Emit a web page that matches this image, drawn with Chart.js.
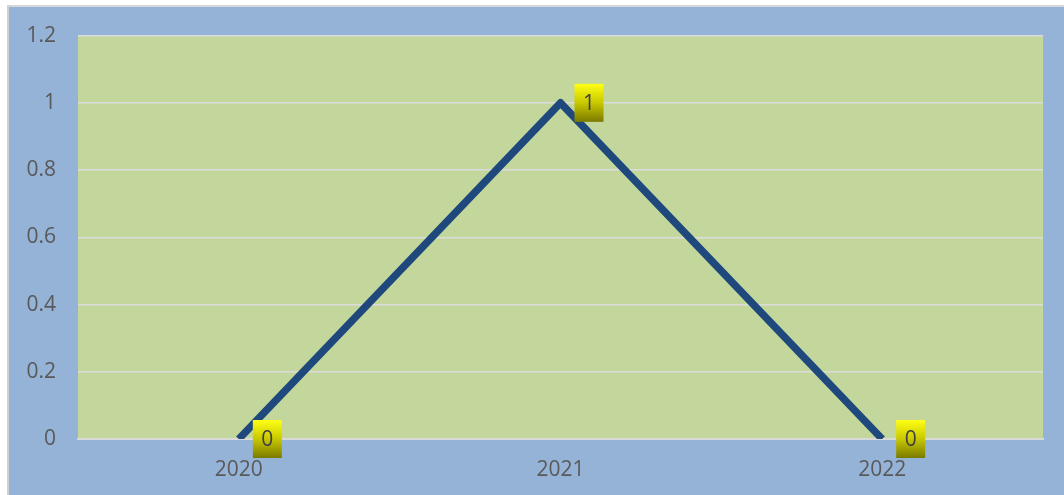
<!DOCTYPE html>
<html>
<head>
<meta charset="utf-8">
<script src="https://cdn.jsdelivr.net/npm/chart.js@4.4.1/dist/chart.umd.min.js"></script>
<style>
  html, body { margin: 0; padding: 0; background: #ffffff; overflow: hidden; }
  #wrap { position: absolute; left: 7px; top: 5px; width: 1055px; height: 490px; overflow: hidden;
          border-left: 2px solid #d0d0d0; border-top: 2px solid #d6d6d6; }
  #c { display: block; position: absolute; left: 0; top: -6px; }
</style>
</head>
<body>
<div id="wrap"><canvas id="c" width="1055" height="494"></canvas></div>
<script>
const categories = ["2020", "2021", "2022"];
const values = [0, 1, 0];
const yTickLabels = ["0", "0.2", "0.4", "0.6", "0.8", "1", "1.2"];

const FONT = "'Open Sans', sans-serif";

const bgPlugin = {
  id: 'bg',
  beforeDraw(chart) {
    const ctx = chart.ctx, a = chart.chartArea;
    ctx.save();
    ctx.fillStyle = '#95b3d7';
    ctx.fillRect(0, 0, chart.width, chart.height);
    ctx.fillStyle = '#c3d69b';
    ctx.fillRect(a.left, a.top, a.right - a.left, a.bottom - a.top);
    ctx.restore();
  }
};

const labelPlugin = {
  id: 'boxLabels',
  afterDatasetsDraw(chart) {
    const ctx = chart.ctx;
    const meta = chart.getDatasetMeta(0);
    ctx.save();
    meta.data.forEach((pt, i) => {
      const bx = pt.x + 14, bw = 29, bh = 38, by = pt.y - 19;
      const g = ctx.createLinearGradient(0, by, 0, by + bh);
      g.addColorStop(0, '#ffff14');
      g.addColorStop(0.5, '#c8c800');
      g.addColorStop(1, '#7a7a00');
      ctx.fillStyle = g;
      ctx.fillRect(bx, by, bw, bh);
      ctx.fillStyle = '#404040';
      ctx.font = '21px ' + FONT;
      ctx.textAlign = 'center';
      ctx.textBaseline = 'middle';
      ctx.fillText(String(values[i]), bx + bw / 2, pt.y + 1);
    });
    ctx.restore();
  }
};

new Chart(document.getElementById('c'), {
  type: 'line',
  data: {
    labels: categories,
    datasets: [{
      data: values,
      borderColor: '#1f497d',
      borderWidth: 7.5,
      borderJoinStyle: 'round',
      pointRadius: 0,
      pointHoverRadius: 0,
      tension: 0,
      fill: false,
      clip: 0
    }]
  },
  options: {
    responsive: false,
    animation: false,
    events: [],
    layout: { padding: { left: 0, right: 21, top: 16, bottom: 0 } },
    plugins: { legend: { display: false }, tooltip: { enabled: false } },
    scales: {
      x: {
        offset: true,
        grid: { display: false, drawTicks: false },
        border: { display: true, color: '#d9d9d9', width: 2 },
        ticks: { color: '#595959', font: { family: FONT, size: 21 }, padding: 18 },
        afterFit(s) { s.height = 56; }
      },
      y: {
        min: 0, max: 1.2,
        ticks: {
          stepSize: 0.2,
          color: '#595959',
          font: { family: FONT, size: 21 },
          padding: 22,
          callback: (v, i) => yTickLabels[i]
        },
        grid: { color: '#dcdcdc', lineWidth: 1.5, drawTicks: false },
        border: { display: false },
        afterFit(s) { s.width = 69; }
      }
    }
  },
  plugins: [bgPlugin, labelPlugin]
});
</script>
</body>
</html>
